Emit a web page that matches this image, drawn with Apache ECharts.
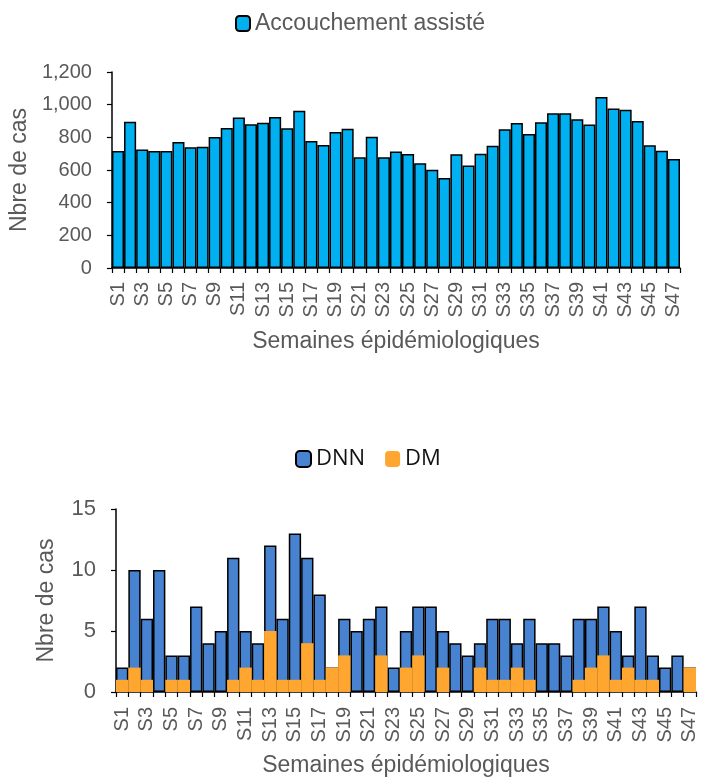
<!DOCTYPE html>
<html><head><meta charset="utf-8">
<script src="https://cdn.jsdelivr.net/npm/echarts@6/dist/echarts.min.js"></script>
<style>html,body{margin:0;padding:0;background:#fff}#c{width:701px;height:781px}</style>
</head><body><div id="c"></div>
<script>
var weeks = [];
for (var i = 1; i <= 47; i++) weeks.push('S' + i);
var accouchement = [716,896,725,716,716,771,739,743,802,857,922,880,890,925,855,963,778,753,833,853,678,804,678,714,698,641,602,551,696,627,700,749,849,888,820,892,947,947,910,878,1047,976,969,900,751,718,667];
var dnn = [2,10,6,10,3,3,7,4,5,11,5,4,12,6,13,11,8,2,6,5,6,7,2,5,7,7,5,4,3,4,6,6,4,6,4,4,3,6,6,7,5,3,7,3,2,3,2];
var dm = [1,2,1,0,1,1,0,0,0,1,2,1,5,1,1,4,1,2,3,0,0,3,0,2,3,0,2,0,0,2,1,1,2,1,0,0,0,1,2,3,1,2,1,1,0,0,2];

var gray = '#595959';
var font = 'Liberation Sans';
var chart = echarts.init(document.getElementById('c'), null, {renderer: 'canvas'});
function xAxis(gi, name, gap, margin) {
  return {
    type: 'category', gridIndex: gi, data: weeks, boundaryGap: true,
    axisLine: {lineStyle: {color: '#000', width: 1.5}},
    axisTick: {show: true, alignWithLabel: false, interval: 0, length: 5, lineStyle: {color: '#000', width: 1.2}},
    axisLabel: {rotate: 90, interval: 1, color: gray, fontSize: 20, fontFamily: font, margin: margin},
    name: name, nameLocation: 'middle', nameGap: gap,
    nameTextStyle: {color: gray, fontSize: 23, fontFamily: font}
  };
}
chart.setOption({
  animation: false,
  legend: [
    {data: ['Accouchement assisté'], left: 230, top: 7, itemWidth: 14, itemHeight: 15, itemGap: 4,
     textStyle: {color: gray, fontSize: 23, fontFamily: font}},
    {data: ['DNN', 'DM'], left: 290, top: 443, itemWidth: 15, itemHeight: 16, itemGap: 20,
     textStyle: {color: '#111', fontSize: 22, fontFamily: 'Open Sans'}}
  ],
  grid: [
    {left: 105, right: 21, top: 72, height: 196},
    {left: 116, right: 5, top: 509, height: 183}
  ],
  xAxis: [xAxis(0, 'Semaines épidémiologiques', 62, 14), xAxis(1, 'Semaines épidémiologiques', 62, 15)],
  yAxis: [
    {type: 'value', gridIndex: 0, min: 0, max: 1200, interval: 200,
     axisLine: {show: true, lineStyle: {color: '#000', width: 1.5}},
     axisTick: {show: true, length: 5, lineStyle: {color: '#000', width: 1.2}},
     splitLine: {show: false},
     axisLabel: {color: gray, fontSize: 20, fontFamily: font, margin: 20,
       formatter: function (v) { return v.toLocaleString('en-US'); }},
     name: 'Nbre de cas', nameLocation: 'middle', nameGap: 78,
     nameTextStyle: {color: gray, fontSize: 23, fontFamily: font}},
    {type: 'value', gridIndex: 1, min: 0, max: 15, interval: 5,
     axisLine: {show: true, lineStyle: {color: '#000', width: 1.5}},
     axisTick: {show: true, length: 5, lineStyle: {color: '#000', width: 1.2}},
     splitLine: {show: false},
     axisLabel: {color: gray, fontSize: 22, fontFamily: font, margin: 20},
     name: 'Nbre de cas', nameLocation: 'middle', nameGap: 58,
     nameTextStyle: {color: gray, fontSize: 23, fontFamily: font}}
  ],
  series: [
    {name: 'Accouchement assisté', type: 'bar', xAxisIndex: 0, yAxisIndex: 0, data: accouchement,
     barCategoryGap: '0%', itemStyle: {color: '#00B0F0', borderColor: '#000', borderWidth: 1.5}},
    {name: 'DNN', type: 'bar', xAxisIndex: 1, yAxisIndex: 1, data: dnn,
     barCategoryGap: '0%', barGap: '-100%', itemStyle: {color: '#4783D0', borderColor: '#000', borderWidth: 1.5}},
    {name: 'DM', type: 'bar', xAxisIndex: 1, yAxisIndex: 1, data: dm,
     barCategoryGap: '0%', barGap: '-100%', itemStyle: {color: '#FFA630'}}
  ]
});
</script></body></html>
